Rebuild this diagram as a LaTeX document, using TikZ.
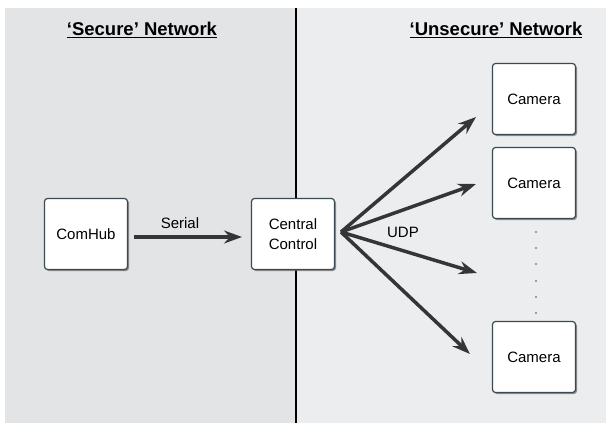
\documentclass[tikz,border=0pt]{standalone}
\usepackage{fontspec}
\setmainfont{Liberation Sans}
\usetikzlibrary{arrows.meta,shadows}
\definecolor{leftbg}{HTML}{E3E4E5}
\definecolor{rightbg}{HTML}{ECEDEE}
\definecolor{boxedge}{HTML}{3A4A50}
\definecolor{arrowc}{HTML}{333638}
\tikzset{
  box/.style={draw=boxedge, line width=1.2pt, fill=white, rounded corners=3pt,
    minimum width=83pt, minimum height=71pt, align=center, font=\fontsize{15}{20}\selectfont,
    drop shadow={shadow xshift=1.5pt, shadow yshift=-1.5pt, fill=black!60, opacity=0.7}},
  bigarrow/.style={draw=arrowc, line width=3.5pt, -{Stealth[length=18pt,width=13pt,inset=6pt]}},
  title/.style={font=\fontsize{18.5}{20}\selectfont\bfseries},
  lbl/.style={font=\fontsize{15}{18}\selectfont}
}
\begin{document}
\begin{tikzpicture}[x=1pt,y=-1pt]
\useasboundingbox (0,0) rectangle (606,423);
\fill[white] (0,0) rectangle (606,423);
\fill[leftbg] (5,8) rectangle (296,423);
\fill[rightbg] (296,8) rectangle (606,423);
\draw[black, line width=1.5pt] (296,8) -- (296,423);

\node[title] (ts) at (142,30) {\underline{‘Secure’ Network}};
\node[title] (tu) at (496,30) {\underline{‘Unsecure’ Network}};

\node[box] (hub) at (86,234) {ComHub};
\node[box] (cc) at (293,234) {Central\\Control};
\node[box] (c1) at (534,99) {Camera};
\node[box] (c2) at (534,183) {Camera};
\node[box] (c3) at (534,357) {Camera};

\coordinate (a1) at (476,117);
\coordinate (a2) at (476,184);
\coordinate (a3) at (477,273);
\coordinate (a4) at (470,354);
\coordinate (src) at (341,232);
\coordinate (ser) at (242,237);

\draw[bigarrow] (hub.east |- ser) ++(6,0) coordinate (s0) -- (ser);
\node[lbl] (serial) at (180,223) {Serial};
\foreach \t in {a1,a2,a3,a4} \draw[bigarrow] (src) -- (\t);
\node[lbl] (udp) at (403,232) {UDP};

\foreach \y in {232,248,264,281,297,313} \fill[black!70] (536,\y) circle (0.9pt);
\end{tikzpicture}
\end{document}
